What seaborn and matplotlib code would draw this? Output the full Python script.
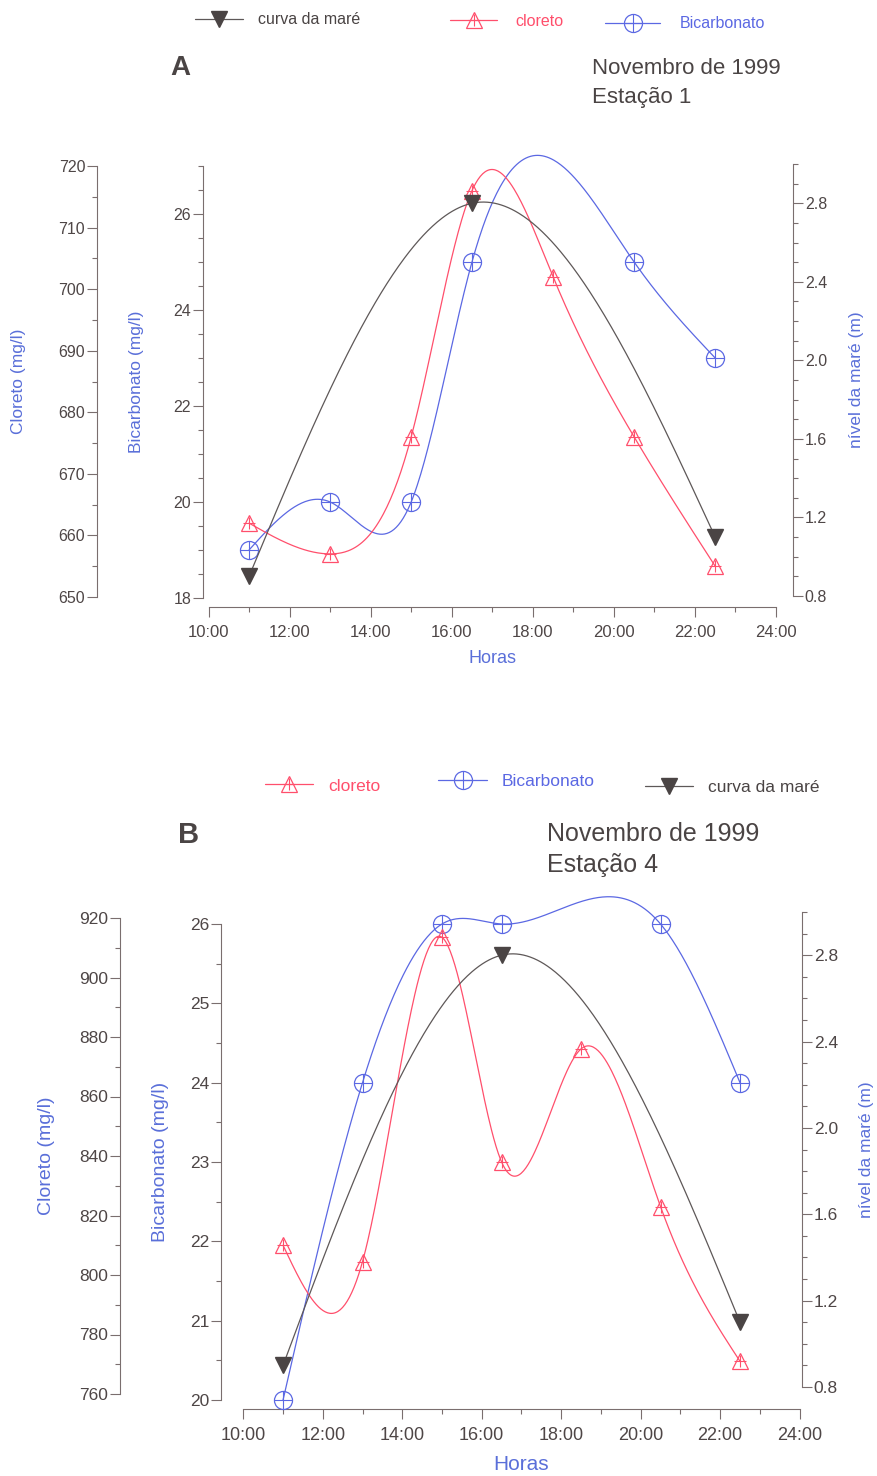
import numpy as np
import pandas as pd
import matplotlib
matplotlib.use("Agg")
import matplotlib.pyplot as plt
from matplotlib.lines import Line2D
from matplotlib.ticker import MultipleLocator, FormatStrFormatter
import seaborn as sns

# ---------------------------------------------------------------- data
hours_cloreto = [11, 13, 15, 16.5, 18.5, 20.5, 22.5]
hours_bicarb = [11, 13, 15, 16.5, 20.5, 22.5]
hours_tide = [11, 16.5, 22.5]

cloreto_est1 = [662, 657, 676, 716, 702, 676, 655]
bicarb_est1 = [19, 20, 20, 25, 25, 23]
tide_est1 = [0.9, 2.8, 1.1]

cloreto_est4 = [810, 804.5, 913.5, 838, 876, 823, 771]
bicarb_est4 = [20, 24, 26, 26, 26, 24]
tide_est4 = [0.9, 2.8, 1.1]

hour_ticks = [10, 12, 14, 16, 18, 20, 22, 24]
hour_labels = ["10:00", "12:00", "14:00", "16:00", "18:00", "20:00", "22:00", "24:00"]

# ---------------------------------------------------------------- style
sns.set_theme(style="ticks")
plt.rcParams["font.family"] = ["Liberation Sans", "DejaVu Sans"]

RED = "#ff4f6c"
BLUE = "#5b68e3"
TIDE = "#4a4444"
TIDE_LINE = "#5e5858"
AXIS_BLUE = "#5a6fd9"
SPINE = "#7a6e6e"
TICKTXT = "#4e4646"

W, H = 877, 1476
fig = plt.figure(figsize=(W / 100, H / 100), dpi=100)
fig.patch.set_facecolor("white")


def box(left, right, top, bottom):
    return [left / W, 1 - bottom / H, (right - left) / W, (bottom - top) / H]


def natural_spline(xk, yk, num=400):
    """Smooth natural cubic spline through the measured points."""
    xk = np.asarray(xk, float)
    yk = np.asarray(yk, float)
    n = len(xk)
    h = np.diff(xk)
    A = np.zeros((n, n))
    rhs = np.zeros(n)
    A[0, 0] = A[-1, -1] = 1.0
    for i in range(1, n - 1):
        A[i, i - 1] = h[i - 1]
        A[i, i] = 2 * (h[i - 1] + h[i])
        A[i, i + 1] = h[i]
        rhs[i] = 6 * ((yk[i + 1] - yk[i]) / h[i] - (yk[i] - yk[i - 1]) / h[i - 1])
    M = np.linalg.solve(A, rhs)
    xs = np.linspace(xk[0], xk[-1], num)
    i = np.clip(np.searchsorted(xk, xs) - 1, 0, n - 2)
    hi = h[i]
    a = xk[i + 1] - xs
    b = xs - xk[i]
    ys = (M[i] * a ** 3 / (6 * hi) + M[i + 1] * b ** 3 / (6 * hi)
          + (yk[i] / hi - M[i] * hi / 6) * a + (yk[i + 1] / hi - M[i + 1] * hi / 6) * b)
    return pd.DataFrame({"hora": xs, "valor": ys})


def style_axis(ax, tick_size):
    ax.set_facecolor("none")
    for s in ax.spines.values():
        s.set_visible(False)
        s.set_color(SPINE)
        s.set_linewidth(0.8)
    ax.tick_params(axis="both", which="major", length=7, width=0.8, color=SPINE,
                   labelcolor=TICKTXT, labelsize=tick_size, pad=1.5)
    ax.tick_params(axis="both", which="minor", length=3.5, width=0.8, color=SPINE)


def draw_panel(cfg):
    x0, x1 = cfg["x0"], cfg["x1"]
    pxw = x1 - x0

    # host axes: bicarbonato + time axis
    ax = fig.add_axes(box(x0, x1, *cfg["bic_box"]))
    style_axis(ax, cfg["ytick"])
    ax.spines["left"].set_visible(True)
    ax.spines["bottom"].set_visible(True)
    ax.spines["left"].set_position(("outward", (x0 - cfg["bic_spine"]) * 0.72))
    ax.spines["bottom"].set_position(("outward", (cfg["x_spine"] - cfg["bic_box"][1]) * 0.72))
    ax.set_xlim(10, 24)
    ax.set_ylim(*cfg["bic_lim"])
    ax.xaxis.set_minor_locator(MultipleLocator(1))
    ax.set_xticks(hour_ticks)
    ax.set_xticklabels(hour_labels)
    ax.tick_params(axis="x", which="major", labelsize=cfg["xtick"], pad=6)
    ax.yaxis.set_minor_locator(MultipleLocator(0.5))
    ax.set_yticks(np.arange(cfg["bic_lim"][0], cfg["bic_label_max"] + 0.01, cfg["bic_major"]))
    ax.yaxis.set_major_formatter(FormatStrFormatter("%d"))
    ax.set_xlabel("Horas", color=AXIS_BLUE, fontsize=cfg["xlab"])
    ax.xaxis.set_label_coords(0.5, 1 - (cfg["horas_y"] - cfg["bic_box"][0]) /
                              (cfg["bic_box"][1] - cfg["bic_box"][0]))
    ax.xaxis.label.set_va("center")
    ax.set_ylabel("Bicarbonato (mg/l)", color=AXIS_BLUE, fontsize=cfg["ylab"])
    ax.yaxis.set_label_coords((cfg["bic_lab_x"] - x0) / pxw, 0.5)
    ax.yaxis.label.set_va("center")

    # cloreto axes (far left)
    axc = fig.add_axes(box(x0, x1, *cfg["clo_box"]))
    style_axis(axc, cfg["ytick"])
    axc.spines["left"].set_visible(True)
    axc.spines["left"].set_position(("outward", (x0 - cfg["clo_spine"]) * 0.72))
    axc.xaxis.set_visible(False)
    axc.set_xlim(10, 24)
    axc.set_ylim(*cfg["clo_lim"])
    axc.yaxis.set_major_locator(MultipleLocator(cfg["clo_major"]))
    axc.yaxis.set_minor_locator(MultipleLocator(cfg["clo_major"] / 2))
    axc.set_ylabel("Cloreto (mg/l)", color=AXIS_BLUE, fontsize=cfg["ylab"])
    axc.yaxis.set_label_coords((cfg["clo_lab_x"] - x0) / pxw, 0.5)
    axc.yaxis.label.set_va("center")

    # tide axes (right)
    axt = fig.add_axes(box(x0, x1, *cfg["tide_box"]))
    style_axis(axt, cfg["ytick"])
    axt.spines["right"].set_visible(True)
    axt.spines["right"].set_position(("outward", (cfg["tide_spine"] - x1) * 0.72))
    axt.xaxis.set_visible(False)
    axt.yaxis.tick_right()
    axt.yaxis.set_label_position("right")
    axt.set_xlim(10, 24)
    axt.set_ylim(0.8, 3.0)
    axt.set_yticks([0.8, 1.2, 1.6, 2.0, 2.4, 2.8])
    axt.yaxis.set_minor_locator(MultipleLocator(0.1))
    axt.yaxis.set_major_formatter(FormatStrFormatter("%.1f"))
    axt.set_ylabel("nível da maré (m)", color=AXIS_BLUE, fontsize=cfg["tlab"], rotation=90)
    axt.yaxis.set_label_coords((cfg["tide_lab_x"] - x0) / pxw, 0.5)
    axt.yaxis.label.set_va("center")

    # smooth curves through the measurements
    sns.lineplot(data=natural_spline(hours_tide, cfg["tide"]), x="hora", y="valor", ax=axt,
                 color=TIDE_LINE, linewidth=0.9, estimator=None, sort=False, clip_on=False)
    sns.lineplot(data=natural_spline(hours_cloreto, cfg["clo"]), x="hora", y="valor", ax=axc,
                 color=RED, linewidth=0.9, estimator=None, sort=False, clip_on=False)
    sns.lineplot(data=natural_spline(hours_bicarb, cfg["bic"]), x="hora", y="valor", ax=ax,
                 color=BLUE, linewidth=0.9, estimator=None, sort=False, clip_on=False)
    axc.set_xlabel("")
    axt.set_xlabel("")
    ax.set_xlabel("Horas", color=AXIS_BLUE, fontsize=cfg["xlab"])
    ax.set_ylabel("Bicarbonato (mg/l)", color=AXIS_BLUE, fontsize=cfg["ylab"])
    axc.set_ylabel("Cloreto (mg/l)", color=AXIS_BLUE, fontsize=cfg["ylab"])
    axt.set_ylabel("nível da maré (m)", color=AXIS_BLUE, fontsize=cfg["tlab"], rotation=90)

    # measured points
    axt.plot(hours_tide, cfg["tide"], ls="none", marker="v", ms=11, mfc=TIDE, mec=TIDE,
             clip_on=False, zorder=5)
    axc.plot(hours_cloreto, cfg["clo"], ls="none", marker="^", ms=12, mfc="none", mec=RED,
             mew=0.9, clip_on=False, zorder=5)
    axc.plot(hours_cloreto, cfg["clo"], ls="none", marker="+", ms=9, mec=RED,
             mew=0.8, clip_on=False, zorder=5)
    ax.plot(hours_bicarb, cfg["bic"], ls="none", marker="o", ms=13, mfc="none", mec=BLUE,
            mew=0.9, clip_on=False, zorder=5)
    ax.plot(hours_bicarb, cfg["bic"], ls="none", marker="+", ms=13, mec=BLUE,
            mew=0.8, clip_on=False, zorder=5)

    # titles
    fig.text(cfg["letter_x"] / W, 1 - cfg["letter_y"] / H, cfg["letter"], fontsize=cfg["letter_fs"],
             fontweight="bold", color="#4a4444", va="center", ha="left")
    fig.text(cfg["title_x"] / W, 1 - cfg["title_y1"] / H, "Novembro de 1999", fontsize=cfg["title_fs"],
             color="#4a4444", va="center", ha="left")
    fig.text(cfg["title_x"] / W, 1 - cfg["title_y2"] / H, cfg["station"], fontsize=cfg["title_fs"],
             color="#4a4444", va="center", ha="left")

    # legend keys
    handles = {
        "curva da maré": (Line2D([], [], color=TIDE_LINE, lw=0.9, marker="v", ms=11, mfc=TIDE, mec=TIDE),
                          TIDE),
        "cloreto": ((Line2D([], [], color=RED, lw=0.9, marker="^", ms=12, mfc="none", mec=RED, mew=0.9),
                     Line2D([], [], ls="none", marker="+", ms=9, mec=RED, mew=0.8)), RED),
        "Bicarbonato": ((Line2D([], [], color=BLUE, lw=0.9, marker="o", ms=13, mfc="none", mec=BLUE, mew=0.9),
                         Line2D([], [], ls="none", marker="+", ms=13, mec=BLUE, mew=0.8)), BLUE),
    }
    fs_px = cfg["leg_fs"] * 100 / 72
    for label, hx0, hx1, ty, tx in cfg["legend"]:
        h, col = handles[label]
        fig.legend(handles=[h], labels=[label], loc="center left",
                   bbox_to_anchor=(hx0 / W, 1 - ty / H), frameon=False,
                   borderpad=0, borderaxespad=0, handlelength=(hx1 - hx0) / fs_px,
                   handletextpad=(tx - hx1) / fs_px, fontsize=cfg["leg_fs"], labelcolor=col)


panel_a = dict(
    x0=208.5, x1=776, bic_box=(166, 598), clo_box=(166, 597), tide_box=(164, 596),
    bic_spine=203, x_spine=607, clo_spine=97, tide_spine=793,
    bic_lim=(18, 27), bic_major=2, bic_label_max=26,
    clo_lim=(650, 720), clo_major=10,
    ytick=11.5, xtick=12, ylab=12.5, xlab=13, tlab=12.5,
    horas_y=658, bic_lab_x=137, clo_lab_x=19, tide_lab_x=857,
    clo=cloreto_est1, bic=bicarb_est1, tide=tide_est1,
    letter="A", letter_x=170, letter_y=68, letter_fs=20,
    title_x=592, title_y1=68, title_y2=97, title_fs=16, station="Estação 1",
    leg_fs=11.5,
    legend=[("curva da maré", 195, 243, 20, 258),
            ("cloreto", 450, 497, 21, 515),
            ("Bicarbonato", 605, 660, 24, 680)],
)

panel_b = dict(
    x0=243.3, x1=799.6, bic_box=(924, 1400), clo_box=(918, 1394), tide_box=(912, 1387),
    bic_spine=221, x_spine=1409, clo_spine=120, tide_spine=802,
    bic_lim=(20, 26), bic_major=1, bic_label_max=26,
    clo_lim=(760, 920), clo_major=20,
    ytick=12.5, xtick=13, ylab=14, xlab=15, tlab=12.5,
    horas_y=1465, bic_lab_x=160, clo_lab_x=46, tide_lab_x=866,
    clo=cloreto_est4, bic=bicarb_est4, tide=tide_est4,
    letter="B", letter_x=178, letter_y=835, letter_fs=21,
    title_x=547, title_y1=834, title_y2=865, title_fs=18, station="Estação 4",
    leg_fs=12.5,
    legend=[("cloreto", 265, 313, 786, 328),
            ("Bicarbonato", 438, 487, 781, 502),
            ("curva da maré", 645, 693, 787, 708)],
)

draw_panel(panel_a)
draw_panel(panel_b)

fig.savefig("out.png", dpi=100, facecolor="white")
